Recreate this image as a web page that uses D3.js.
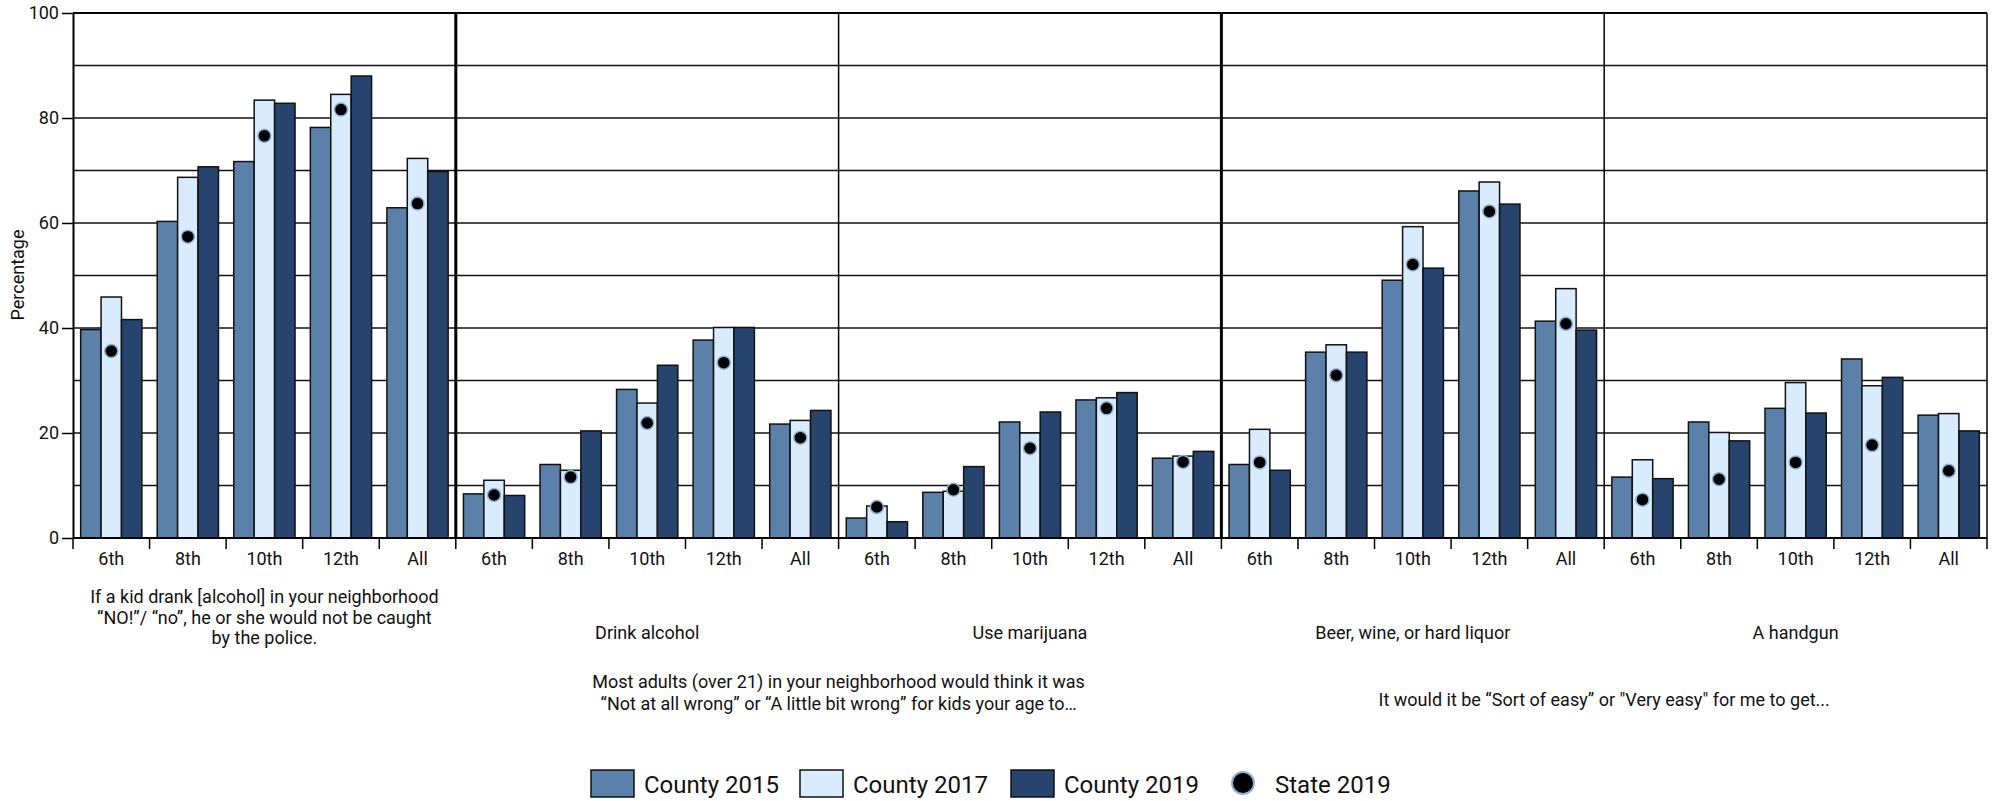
<!DOCTYPE html>
<html>
<head>
<meta charset="utf-8">
<script src="https://cdn.jsdelivr.net/npm/d3@7"></script>
<style>
  body { margin: 0; background: #fff; }
  svg text { font-family: Roboto, "DejaVu Sans", sans-serif; fill: #111; }
</style>
</head>
<body>
<div id="chart"></div>
<script>
// data
var grades = ["6th", "8th", "10th", "12th", "All"];
var panels = ["neighborhood", "alcohol", "marijuana", "liquor", "handgun"];
var seriesNames = ["County 2015", "County 2017", "County 2019"];
var county2015 = [39.7, 60.3, 71.7, 78.2, 62.9,  8.4, 14.0, 28.3, 37.7, 21.7,  3.8, 8.7, 22.1, 26.3, 15.2,  14.0, 35.4, 49.1, 66.1, 41.3,  11.6, 22.1, 24.7, 34.1, 23.4];
var county2017 = [45.9, 68.7, 83.4, 84.5, 72.3,  11.0, 12.9, 25.7, 40.1, 22.4,  6.1, 8.9, 20.0, 26.7, 15.6,  20.7, 36.8, 59.3, 67.8, 47.5,  14.9, 20.1, 29.6, 29.0, 23.7];
var county2019 = [41.6, 70.7, 82.8, 88.0, 69.8,  8.1, 20.4, 32.9, 40.1, 24.3,  3.1, 13.6, 24.0, 27.7, 16.5,  12.9, 35.4, 51.4, 63.6, 39.6,  11.3, 18.5, 23.8, 30.6, 20.4];
var state2019  = [35.6, 57.4, 76.6, 81.6, 63.7,  8.2, 11.6, 21.9, 33.4, 19.1,  5.9, 9.2, 17.1, 24.7, 14.5,  14.4, 31.0, 52.1, 62.2, 40.8,  7.3, 11.2, 14.4, 17.7, 12.8];
var yTicks = [0, 20, 40, 60, 80, 100];

var colors = ["#5b80a9", "#d9ecfd", "#26446d"];

var width = 2001, height = 801;
var margin = {top: 13, left: 73, right: 14, bottom: 263};
var plotW = width - margin.left - margin.right,
    plotH = height - margin.top - margin.bottom;

var svg = d3.select("#chart")
  .append("svg")
    .attr("width", width)
    .attr("height", height)
  .append("g")
    .attr("transform", "translate(" + margin.left + "," + margin.top + ")");

// one row per grade group
var rows = [];
panels.forEach(function(p, pi) {
  grades.forEach(function(g, gi) {
    var i = pi * grades.length + gi;
    rows.push({key: p + "-" + g, panel: p, grade: g,
      values: [county2015[i], county2017[i], county2019[i]], state: state2019[i]});
  });
});

var x0 = d3.scaleBand()
  .domain(rows.map(function(d) { return d.key; }))
  .range([0, plotW])
  .padding(0);
var bw = x0.bandwidth();
var x1 = d3.scaleBand()
  .domain([0, 1, 2])
  .range([bw * 0.1, bw * 0.9])
  .padding(0);
var y = d3.scaleLinear().domain([0, 100]).range([plotH, 0]);
var xp = d3.scaleBand().domain(panels).range([0, plotW]);

// gridlines every 10
svg.append("g")
  .selectAll("line")
  .data(d3.range(10, 101, 10))
  .enter().append("line")
    .attr("x1", 0).attr("x2", plotW)
    .attr("y1", function(d) { return y(d); })
    .attr("y2", function(d) { return y(d); })
    .attr("stroke", "#111")
    .attr("stroke-width", 1.5);

// panel separators
svg.append("g")
  .selectAll("line")
  .data(panels.slice(1))
  .enter().append("line")
    .attr("x1", function(d) { return xp(d); })
    .attr("x2", function(d) { return xp(d); })
    .attr("y1", 0).attr("y2", plotH)
    .attr("stroke", "#000")
    .attr("stroke-width", function(d, i) { return i % 2 == 0 ? 3 : 1.5; });

// right border
svg.append("line")
  .attr("x1", plotW).attr("x2", plotW)
  .attr("y1", 0).attr("y2", plotH)
  .attr("stroke", "#000").attr("stroke-width", 1.5);

// bars
var groups = svg.append("g")
  .selectAll("g")
  .data(rows)
  .enter().append("g")
    .attr("transform", function(d) { return "translate(" + x0(d.key) + ",0)"; });

groups.selectAll("rect")
  .data(function(d) { return d.values; })
  .enter().append("rect")
    .attr("x", function(d, i) { return x1(i); })
    .attr("y", function(d) { return y(d); })
    .attr("width", x1.bandwidth())
    .attr("height", function(d) { return y(0) - y(d); })
    .attr("fill", function(d, i) { return colors[i]; })
    .attr("stroke", "#111")
    .attr("stroke-width", 1.5);

// state dots
svg.append("g")
  .selectAll("circle")
  .data(rows)
  .enter().append("circle")
    .attr("cx", function(d) { return x0(d.key) + x1(1) + x1.bandwidth() / 2; })
    .attr("cy", function(d) { return y(d.state); })
    .attr("r", 6.5)
    .attr("fill", "#000")
    .attr("stroke", "#8fb0d6")
    .attr("stroke-width", 1.5);

// y axis
var yAxis = svg.append("g")
  .call(d3.axisLeft(y).tickValues(yTicks).tickSize(11).tickPadding(3).tickSizeOuter(0));
yAxis.select(".domain").attr("stroke", "#000").attr("stroke-width", 2);
yAxis.selectAll(".tick line").attr("stroke", "#000").attr("stroke-width", 1.5);
yAxis.selectAll("text").style("font-size", "18px").attr("fill", "#111");

// top border
svg.append("line")
  .attr("x1", 0).attr("x2", plotW)
  .attr("y1", 0).attr("y2", 0)
  .attr("stroke", "#000").attr("stroke-width", 2);

// x axis: ticks between groups, labels in the middle
var xAxis = svg.append("g")
  .attr("transform", "translate(0," + plotH + ")");
xAxis.append("line")
  .attr("x1", 0).attr("x2", plotW)
  .attr("stroke", "#000").attr("stroke-width", 2);
xAxis.selectAll(".sep")
  .data(rows.map(function(d) { return x0(d.key); }).concat([plotW]))
  .enter().append("line")
    .attr("x1", function(d) { return d; })
    .attr("x2", function(d) { return d; })
    .attr("y1", 0).attr("y2", 11)
    .attr("stroke", "#000").attr("stroke-width", 1.5);
xAxis.selectAll(".lbl")
  .data(rows)
  .enter().append("text")
    .attr("x", function(d) { return x0(d.key) + bw / 2; })
    .attr("y", 27)
    .attr("text-anchor", "middle")
    .style("font-size", "18px")
    .text(function(d) { return d.grade; });

// y label
svg.append("text")
  .attr("transform", "translate(" + (24 - margin.left) + "," + (275 - margin.top) + ") rotate(-90)")
  .attr("text-anchor", "middle")
  .style("font-size", "18px")
  .text("Percentage");

// category labels
var cat = svg.append("g").style("font-size", "18px").attr("text-anchor", "middle");
var p1 = ["If a kid drank [alcohol] in your neighborhood", "\u201cNO!\u201d/ \u201cno\u201d, he or she would not be caught", "by the police."];
cat.selectAll(".p1")
  .data(p1)
  .enter().append("text")
    .attr("x", xp("neighborhood") + xp.bandwidth() / 2)
    .attr("y", function(d, i) { return 603 - margin.top + i * 20.5; })
    .text(function(d) { return d; });

var single = [["alcohol", "Drink alcohol"], ["marijuana", "Use marijuana"], ["liquor", "Beer, wine, or hard liquor"], ["handgun", "A handgun"]];
cat.selectAll(".single")
  .data(single)
  .enter().append("text")
    .attr("x", function(d) { return xp(d[0]) + xp.bandwidth() / 2; })
    .attr("y", 639 - margin.top)
    .text(function(d) { return d[1]; });

var adults = ["Most adults (over 21) in your neighborhood would think it was", "\u201cNot at all wrong\u201d or \u201cA little bit wrong\u201d for kids your age to\u2026"];
cat.selectAll(".adults")
  .data(adults)
  .enter().append("text")
    .attr("x", xp("marijuana"))
    .attr("y", function(d, i) { return 688 - margin.top + i * 22; })
    .text(function(d) { return d; });

cat.append("text")
  .attr("x", xp("handgun"))
  .attr("y", 706 - margin.top)
  .text("It would it be \u201cSort of easy\u201d or \"Very easy\" for me to get...");

// legend
var legend = svg.append("g")
  .attr("transform", "translate(" + (-margin.left) + "," + (-margin.top) + ")");
var legX = [591, 800, 1011];
seriesNames.forEach(function(s, i) {
  legend.append("rect")
    .attr("x", legX[i]).attr("y", 770)
    .attr("width", 43).attr("height", 27)
    .attr("fill", colors[i])
    .attr("stroke", "#111").attr("stroke-width", 1.5);
  legend.append("text")
    .attr("x", legX[i] + 53).attr("y", 793)
    .style("font-size", "24px")
    .text(s);
});
legend.append("circle")
  .attr("cx", 1243).attr("cy", 783).attr("r", 11)
  .attr("fill", "#000").attr("stroke", "#8fb0d6").attr("stroke-width", 2);
legend.append("text")
  .attr("x", 1275).attr("y", 793)
  .style("font-size", "24px")
  .text("State 2019");
</script>
</body>
</html>
